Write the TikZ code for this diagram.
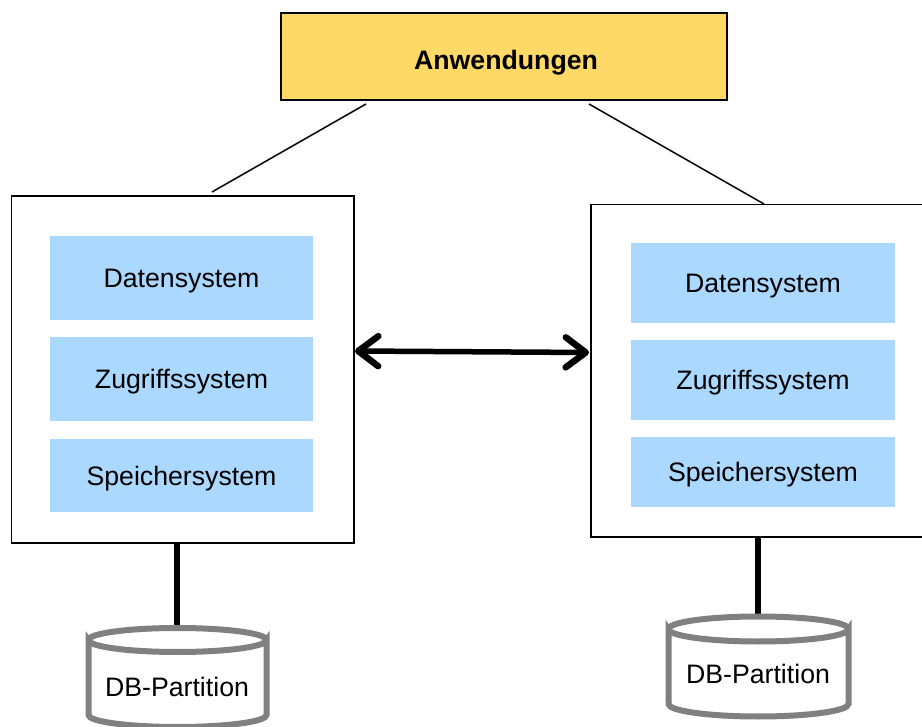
\documentclass[tikz,border=0pt]{standalone}
\usepackage{fontspec}
\setmainfont{Liberation Sans}
\usetikzlibrary{arrows.meta}
\definecolor{appyellow}{HTML}{FFD966}
\definecolor{layerblue}{HTML}{ABD8FF}
\definecolor{dbgray}{HTML}{808080}
\tikzset{
  base/.style={inner sep=0pt,outer sep=0pt,font=\fontsize{26.7pt}{30pt}\selectfont},
  app/.style={base,draw=black,line width=1.5pt,fill=appyellow,minimum width=446pt,minimum height=87pt,text height=28pt,text depth=2.4pt,font=\fontsize{26.7pt}{30pt}\selectfont\bfseries},
  hostbox/.style={base,draw=black,line width=1.5pt,fill=white},
  layer/.style={base,fill=layerblue,text=black,text height=22pt,text depth=2.4pt},
  thinlink/.style={draw=black,line width=1.5pt},
  thicklink/.style={draw=black,line width=5.5pt},
  duplex/.style={draw=black,line width=5.5pt,{Straight Barb[round,length=20pt,width=30pt,line width=6.5pt]}-{Straight Barb[round,length=20pt,width=30pt,line width=6.5pt]}},
  dbshell/.style={draw=dbgray,line width=6pt,fill=white},
}
\begin{document}
\begin{tikzpicture}[x=1pt,y=-1pt]
\useasboundingbox (0,0) rectangle (922,727);
\clip (0,0) rectangle (922,727);
% application
\node[app,align=center] (app) at (504,56.5) {\hspace*{4pt}Anwendungen};
% host boxes
\node[hostbox,minimum width=342.5pt,minimum height=347pt] (hostL) at (182.75,369.5) {};
\node[hostbox,minimum width=340pt,minimum height=332.5pt] (hostR) at (761,370.75) {};
% layers left
\node[layer,minimum width=263pt,minimum height=84pt] (dataL) at (181.5,278) {Datensystem};
\node[layer,minimum width=263pt,minimum height=84pt] (accL) at (181.5,379) {Zugriffssystem};
\node[layer,minimum width=263pt,minimum height=73pt] (storL) at (181.5,475.5) {Speichersystem};
% layers right
\node[layer,minimum width=264pt,minimum height=80pt] (dataR) at (763,283) {Datensystem};
\node[layer,minimum width=264pt,minimum height=80pt] (accR) at (763,380) {Zugriffssystem};
\node[layer,minimum width=264pt,minimum height=70pt] (storR) at (763,472) {Speichersystem};
% free ends of the links
\coordinate (appL) at (366,104);
\coordinate (hostLt) at (212,192);
\coordinate (appR) at (589,104);
\coordinate (hostRt) at (764,204);
\coordinate (hostLe) at (355,351);
\coordinate (hostRw) at (589,352.5);
\coordinate (hostLb) at (177,543);
\coordinate (dbLt) at (177,628);
\coordinate (hostRb) at (758,537);
\coordinate (dbRt) at (758,617);
% links
\draw[thinlink] (appL) -- (hostLt);
\draw[thinlink] (appR) -- (hostRt);
\draw[duplex] (hostLe) -- (hostRw);
\draw[thicklink] (hostLb) -- (dbLt);
\draw[thicklink] (hostRb) -- (dbRt);
% database left
\draw[dbshell] (88.5,640) arc[start angle=180,end angle=0,x radius=89,y radius=12]
  -- (266.5,715) arc[start angle=0,end angle=180,x radius=89,y radius=12] -- cycle;
\draw[dbshell,fill=none] (88.5,640) arc[start angle=180,end angle=360,x radius=89,y radius=12];
\node[base] (dbL) at (177,687) {DB-Partition};
% database right
\draw[dbshell] (668.5,629) arc[start angle=180,end angle=0,x radius=90,y radius=12.5]
  -- (848.5,704) arc[start angle=0,end angle=180,x radius=90,y radius=12.5] -- cycle;
\draw[dbshell,fill=none] (668.5,629) arc[start angle=180,end angle=360,x radius=90,y radius=12.5];
\node[base] (dbR) at (758,674) {DB-Partition};
\end{tikzpicture}
\end{document}
